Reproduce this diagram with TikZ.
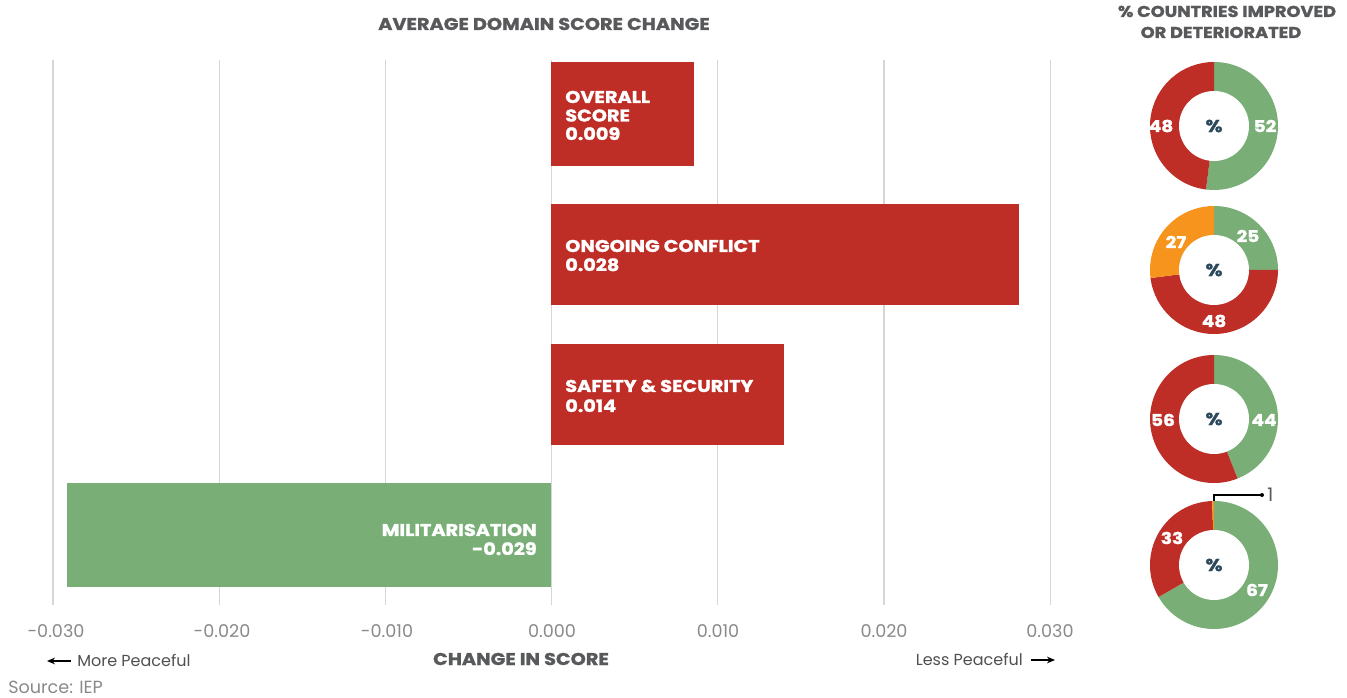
\documentclass[tikz,border=0pt]{standalone}
\usepackage{fontspec}
\setmainfont{Poppins}
\newfontfamily\heavyfont{Poppins}[FakeStretch=1.13, BoldFeatures={FakeBold=1.3}]
\usetikzlibrary{arrows.meta}
\definecolor{barred}{HTML}{BE2D26}
\definecolor{bargreen}{HTML}{79AF76}
\definecolor{donorange}{HTML}{F7941E}
\definecolor{titlegray}{HTML}{58595B}
\definecolor{tickgray}{HTML}{8A8A8A}
\definecolor{gridgray}{HTML}{D6D6D6}
\definecolor{pctblue}{HTML}{2C4A5C}
\newcommand\donutseg[5]{\fill[#5] (#1,#2) -- ++(#3:64) arc[start angle=#3, end angle=#4, radius=64] -- cycle;}
\begin{document}
\begin{tikzpicture}[x=0.75pt,y=-0.75pt,
  barlabel/.style={font=\heavyfont\fontsize{12.8}{14}\selectfont\bfseries, text=white, inner sep=0pt},
  headtxt/.style={font=\heavyfont\fontsize{12.8}{14}\selectfont\bfseries, text=titlegray, inner sep=0pt},
  sidehead/.style={font=\heavyfont\fontsize{11.8}{14}\selectfont\bfseries, text=titlegray, inner sep=0pt},
  ticktxt/.style={font=\fontsize{13.2}{14}\selectfont, text=tickgray, inner sep=0pt, anchor=base},
  notetxt/.style={font=\fontsize{12}{14}\selectfont, text=titlegray!90!black, inner sep=0pt},
  donuttxt/.style={font=\heavyfont\fontsize{12.3}{14}\selectfont\bfseries, text=white, inner sep=0pt},
  pcttxt/.style={font=\heavyfont\fontsize{13}{14}\selectfont\bfseries, text=pctblue, inner sep=0pt},
  gridline/.style={draw=gridgray, line width=0.9pt}]
\useasboundingbox (0,0) rectangle (1347,698);
\fill[white] (0,0) rectangle (1347,698);

% grid lines
\foreach \i in {-3,...,3} {
  \draw[gridline] ({551.5+166.2*\i},60) -- ({551.5+166.2*\i},605);
}

% bars
\fill[barred] (551,62) rectangle (694,166);
\fill[barred] (551,204) rectangle (1019,305);
\fill[barred] (551,344) rectangle (784,445);
\fill[bargreen] (67,483) rectangle (551,587);

% bar labels
\node[barlabel, anchor=base west] (ov1) at (565,103) {OVERALL};
\node[barlabel, anchor=base west] (ov2) at (565,121.5) {SCORE};
\node[barlabel, anchor=base west] (ov3) at (565,140) {0.009};
\node[barlabel, anchor=base west] (oc1) at (565,252) {ONGOING CONFLICT};
\node[barlabel, anchor=base west] (oc2) at (565,271) {0.028};
\node[barlabel, anchor=base west] (ss1) at (565,392) {SAFETY \& SECURITY};
\node[barlabel, anchor=base west] (ss2) at (565,412) {0.014};
\node[barlabel, anchor=base east] (mi1) at (537,536) {MILITARISATION};
\node[barlabel, anchor=base east] (mi2) at (537,555) {-0.029};

% titles
\node[headtxt, anchor=base] (title) at (544,30) {AVERAGE DOMAIN SCORE CHANGE};
\node[sidehead, anchor=base] (rt1) at (1227,17) {\% COUNTRIES IMPROVED};
\node[sidehead, anchor=base] (rt2) at (1221,38) {OR DETERIORATED};

% tick labels
\node[ticktxt] (t1) at (56,638) {-0.030};
\node[ticktxt] (t2) at (222,638) {-0.020};
\node[ticktxt] (t3) at (387,638) {-0.010};
\node[ticktxt] (t4) at (552,638) {0.000};
\node[ticktxt] (t5) at (718,638) {0.010};
\node[ticktxt] (t6) at (884,638) {0.020};
\node[ticktxt] (t7) at (1050,638) {0.030};

% axis notes
\node[notetxt, anchor=base west] (more) at (77,666) {More Peaceful};
\coordinate (ma1) at (71,661);
\coordinate (ma2) at (47,661);
\draw[line width=1pt, -{Stealth[length=6pt,width=5pt]}] (ma1) -- (ma2);
\node[headtxt, anchor=base] (cis) at (521,665) {CHANGE IN SCORE};
\node[notetxt, anchor=base east] (less) at (1023,665) {Less Peaceful};
\coordinate (la1) at (1031,660);
\coordinate (la2) at (1055,660);
\draw[line width=1pt, -{Stealth[length=6pt,width=5pt]}] (la1) -- (la2);
\node[ticktxt, anchor=base west] (src) at (8,693) {Source: IEP};

% donut 1
\coordinate (d1) at (1214,126);
\donutseg{1214}{126}{-90}{97.2}{bargreen}
\donutseg{1214}{126}{97.2}{270}{barred}
\fill[white] (d1) circle[radius=35];
\node[donuttxt] (d1a) at (1161,126) {48};
\node[donuttxt] (d1b) at (1265,126) {52};
\node[pcttxt] (d1c) at (d1) {\%};

% donut 2
\coordinate (d2) at (1214,270);
\donutseg{1214}{270}{-90}{0}{bargreen}
\donutseg{1214}{270}{0}{172.8}{barred}
\donutseg{1214}{270}{172.8}{270}{donorange}
\fill[white] (d2) circle[radius=35];
\node[donuttxt] (d2a) at (1248,236) {25};
\node[donuttxt] (d2b) at (1214,321) {48};
\node[donuttxt] (d2c) at (1176,242) {27};
\node[pcttxt] (d2d) at (d2) {\%};

% donut 3
\coordinate (d3) at (1214,419);
\donutseg{1214}{419}{-90}{68.4}{bargreen}
\donutseg{1214}{419}{68.4}{270}{barred}
\fill[white] (d3) circle[radius=35];
\node[donuttxt] (d3a) at (1163,420) {56};
\node[donuttxt] (d3b) at (1264,420) {44};
\node[pcttxt] (d3c) at (d3) {\%};

% donut 4
\coordinate (d4) at (1214,565);
\donutseg{1214}{565}{-90}{150}{bargreen}
\donutseg{1214}{565}{150}{268.4}{barred}
\donutseg{1214}{565}{268.4}{270}{donorange}
\fill[white] (d4) circle[radius=35];
\node[donuttxt] (d4a) at (1172,538) {33};
\node[donuttxt] (d4b) at (1257,590) {67};
\node[pcttxt] (d4c) at (d4) {\%};
\coordinate (c4a) at (1214,501);
\coordinate (c4b) at (1262,495);
\draw[black, line width=0.8pt] (c4a) |- (c4b);
\fill[black] (c4b) circle[radius=2];
\node[font=\fontsize{14}{14}\selectfont, text=titlegray, inner sep=0pt, anchor=base west] (one) at (1267,502) {1};
\end{tikzpicture}
\end{document}
